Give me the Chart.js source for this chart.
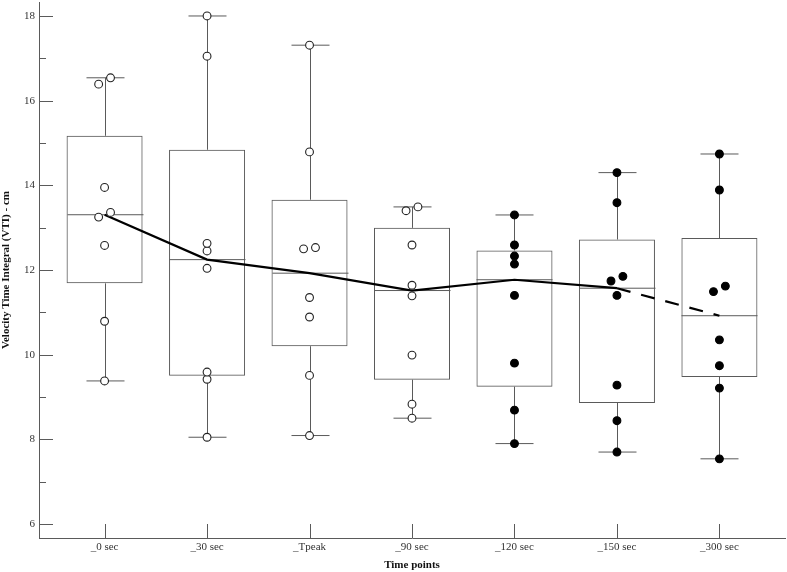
<!DOCTYPE html>
<html>
<head>
<meta charset="utf-8">
<script src="https://cdn.jsdelivr.net/npm/chart.js@4/dist/chart.umd.min.js"></script>
<style>
  html,body{margin:0;padding:0;background:#fff;}
  #wrap{width:787px;height:572px;}
  canvas{display:block;}
</style>
</head>
<body>
<div id="wrap"><canvas id="myChart" width="787" height="572"></canvas></div>
<script>
// categories on the x axis
var categories = ['_0 sec', '_30 sec', '_Tpeak', '_90 sec', '_120 sec', '_150 sec', '_300 sec'];

// VTI values (cm) per time point
var sec0   = [16.54, 16.39, 13.95, 13.36, 13.25, 12.58, 10.79, 9.38];
var sec30  = [18.00, 17.05, 12.63, 12.45, 12.04, 9.59, 9.42, 8.05];
var tpeak  = [17.31, 14.79, 12.53, 12.50, 11.35, 10.89, 9.51, 8.09];
var sec90  = [13.49, 13.40, 12.59, 11.64, 11.39, 9.99, 8.83, 8.50];
var sec120 = [13.30, 12.59, 12.33, 12.14, 11.40, 9.80, 8.69, 7.90];
var sec150 = [14.30, 13.59, 11.85, 11.74, 11.40, 9.28, 8.44, 7.70];
var sec300 = [14.74, 13.89, 11.62, 11.49, 10.35, 9.74, 9.21, 7.54];
var allValues = [sec0, sec30, tpeak, sec90, sec120, sec150, sec300];

// time points after tpeak have solid markers
var solidMarker = [false, false, false, false, true, true, true];
// median line turns dashed from this category on
var dashedFrom = 5;

// y axis ticks
var yMajor = [6, 8, 10, 12, 14, 16, 18];
var yMinor = [7, 9, 11, 13, 15, 17];

function median(arr){
    var s = arr.slice().sort(function(a,b){return a-b;});
    var m = Math.floor(s.length/2);
    return s.length % 2 ? s[m] : (s[m-1] + s[m]) / 2;
}

// tukey hinges, whiskers to last value inside 1.5 IQR
function boxStats(arr){
    var s = arr.slice().sort(function(a,b){return a-b;});
    var n = s.length, h = Math.floor(n/2);
    var lower = s.slice(0, n % 2 ? h+1 : h);
    var upper = s.slice(h);
    var q1 = median(lower), q3 = median(upper), iqr = q3 - q1;
    var lo = s.filter(function(v){return v >= q1 - 1.5*iqr;});
    var hi = s.filter(function(v){return v <= q3 + 1.5*iqr;});
    return {q1:q1, med:median(s), q3:q3, min:lo[0], max:hi[hi.length-1]};
}
var stats = allValues.map(boxStats);

// points that nearly overlap get pushed a bit to the sides
function dodgePoints(arr, i){
    var s = arr.slice().sort(function(a,b){return a-b;});
    var out = [];
    for(var k=0;k<s.length;k++){
        if(k+1 < s.length && s[k+1]-s[k] < 0.16){
            out.push({x:i-0.058, y:s[k]});
            out.push({x:i+0.058, y:s[k+1]});
            k++;
        } else {
            out.push({x:i, y:s[k]});
        }
    }
    return out;
}
var openPts = [], solidPts = [];
allValues.forEach(function(arr, i){
    var pts = dodgePoints(arr, i);
    if(solidMarker[i]) solidPts = solidPts.concat(pts);
    else openPts = openPts.concat(pts);
});

var boxWidth = 0.742;
var lineGray = '#5a5a5a';
var font = 'Liberation Serif, Times New Roman, serif';

// whiskers, caps, medians and inward tick marks
var boxPlugin = {
    id: 'boxPlugin',
    beforeDatasetsDraw: function(chart){
        var ctx = chart.ctx, xs = chart.scales.x, ys = chart.scales.y;
        var unit = xs.getPixelForValue(1) - xs.getPixelForValue(0);
        var half = unit*boxWidth/2, cap = half/2;
        ctx.save();
        ctx.strokeStyle = lineGray;
        ctx.lineWidth = 1;
        stats.forEach(function(s, i){
            var x = Math.round(xs.getPixelForValue(i)) + 0.5;
            ctx.beginPath();
            ctx.moveTo(x, ys.getPixelForValue(s.q3)); ctx.lineTo(x, ys.getPixelForValue(s.max));
            ctx.moveTo(x, ys.getPixelForValue(s.q1)); ctx.lineTo(x, ys.getPixelForValue(s.min));
            ctx.moveTo(x-cap, ys.getPixelForValue(s.max)); ctx.lineTo(x+cap, ys.getPixelForValue(s.max));
            ctx.moveTo(x-cap, ys.getPixelForValue(s.min)); ctx.lineTo(x+cap, ys.getPixelForValue(s.min));
            ctx.moveTo(x-half, ys.getPixelForValue(s.med)); ctx.lineTo(x+half, ys.getPixelForValue(s.med));
            ctx.stroke();
        });
        // tick marks go inside the plot
        var left = chart.chartArea.left, bottom = chart.chartArea.bottom;
        ctx.beginPath();
        yMajor.forEach(function(v){
            var y = Math.round(ys.getPixelForValue(v)) + 0.5;
            ctx.moveTo(left, y); ctx.lineTo(left+14, y);
        });
        yMinor.forEach(function(v){
            var y = Math.round(ys.getPixelForValue(v)) + 0.5;
            ctx.moveTo(left, y); ctx.lineTo(left+7, y);
        });
        categories.forEach(function(c, i){
            var x = Math.round(xs.getPixelForValue(i)) + 0.5;
            ctx.moveTo(x, bottom); ctx.lineTo(x, bottom-14);
        });
        ctx.stroke();
        ctx.restore();
    }
};

var data = {
    datasets: [{
        type: 'scatter',
        label: 'open',
        data: openPts,
        pointRadius: 3.9,
        pointBorderWidth: 1.1,
        pointBackgroundColor: '#fff',
        pointBorderColor: '#222',
        order: 1
    },{
        type: 'scatter',
        label: 'solid',
        data: solidPts,
        pointRadius: 3.9,
        pointBorderWidth: 1.1,
        pointBackgroundColor: '#000',
        pointBorderColor: '#000',
        order: 1
    },{
        type: 'line',
        label: 'median',
        data: stats.map(function(s, i){ return {x:i, y:s.med}; }),
        borderColor: '#000',
        borderWidth: 2.2,
        pointRadius: 0,
        tension: 0,
        segment: {
            borderDash: function(c){ return c.p0DataIndex >= dashedFrom ? [14, 11] : undefined; }
        },
        order: 2
    },{
        type: 'bar',
        label: 'box',
        data: stats.map(function(s, i){ return {x:i, y:[s.q1, s.q3]}; }),
        backgroundColor: 'rgba(0,0,0,0)',
        borderColor: lineGray,
        borderWidth: 1,
        borderSkipped: false,
        barPercentage: boxWidth,
        categoryPercentage: 1,
        order: 3
    }]
};

var config = {
    type: 'bar',
    data: data,
    plugins: [boxPlugin],
    options: {
        responsive: false,
        animation: false,
        layout: { autoPadding: false, padding: { top: 2, right: 2, left: 0, bottom: 0 } },
        plugins: { legend: { display: false }, tooltip: { enabled: false } },
        scales: {
            x: {
                type: 'linear',
                min: -0.64,
                max: 6.64,
                offset: false,
                grid: { display: false, offset: false, drawTicks: false },
                border: { color: lineGray, width: 1 },
                afterBuildTicks: function(scale){
                    scale.ticks = categories.map(function(c, i){ return {value:i}; });
                },
                afterFit: function(scale){
                    scale.height = 34;
                    scale.paddingLeft = 0;
                    scale.paddingRight = 0;
                },
                ticks: {
                    padding: 3,
                    color: '#333',
                    font: { family: font, size: 11 },
                    maxRotation: 0,
                    callback: function(v){ return categories[v]; }
                },
                title: {
                    display: true,
                    text: 'Time points',
                    color: '#111',
                    padding: { top: 2, bottom: 0 },
                    font: { family: font, size: 11, weight: 'bold' }
                }
            },
            y: {
                type: 'linear',
                min: 5.67,
                max: 18.33,
                grid: { display: false, drawTicks: false },
                border: { color: lineGray, width: 1 },
                afterBuildTicks: function(scale){
                    scale.ticks = yMajor.concat(yMinor).sort(function(a,b){return a-b;}).map(function(v){ return {value:v}; });
                },
                afterFit: function(scale){
                    scale.width = 39;
                    scale.paddingTop = 0;
                    scale.paddingBottom = 0;
                },
                ticks: {
                    padding: 4,
                    color: '#333',
                    font: { family: font, size: 11 },
                    callback: function(v){ return yMajor.indexOf(v) >= 0 ? v : ''; }
                },
                title: {
                    display: true,
                    text: 'Velocity Time Integral (VTI) - cm',
                    color: '#111',
                    padding: { top: 0, bottom: 0 },
                    font: { family: font, size: 11, weight: 'bold' }
                }
            }
        }
    }
};

var myChart = new Chart(document.getElementById('myChart'), config);
</script>
</body>
</html>
